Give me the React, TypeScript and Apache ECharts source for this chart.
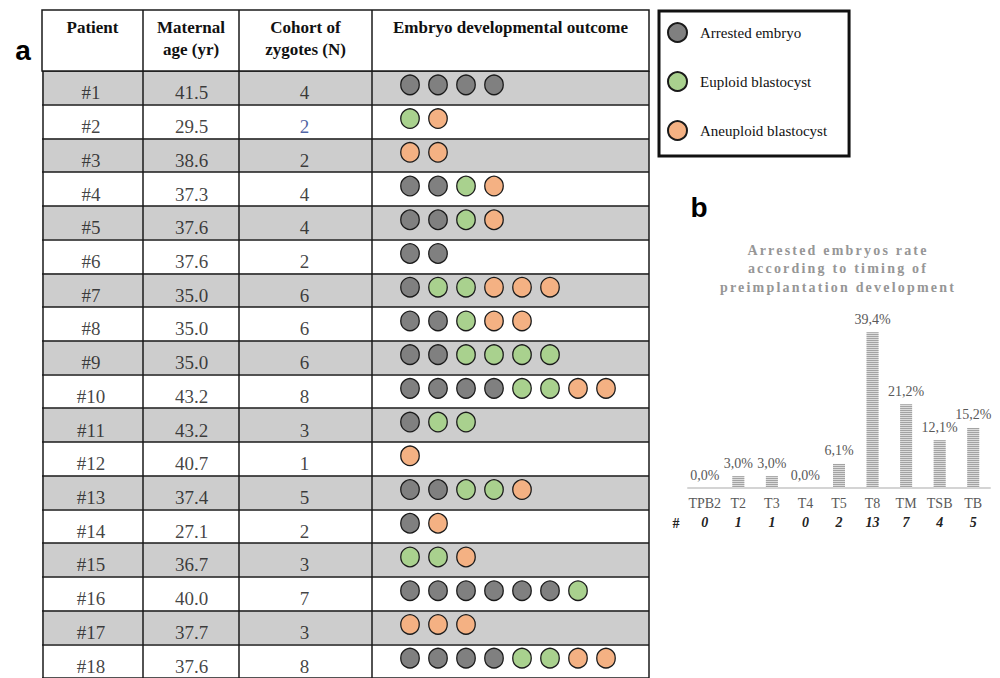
import React, { useEffect, useRef } from "react";
import * as echarts from "echarts";

// ---------- Data: table (panel a) ----------
const patients = ["#1", "#2", "#3", "#4", "#5", "#6", "#7", "#8", "#9", "#10", "#11", "#12", "#13", "#14", "#15", "#16", "#17", "#18"];
const maternalAges = ["41.5", "29.5", "38.6", "37.3", "37.6", "37.6", "35.0", "35.0", "35.0", "43.2", "43.2", "40.7", "37.4", "27.1", "36.7", "40.0", "37.7", "37.6"];
const zygoteCohorts = [4, 2, 2, 4, 4, 2, 6, 6, 6, 8, 3, 1, 5, 2, 3, 7, 3, 8];
// A = arrested embryo, E = euploid blastocyst, N = aneuploid blastocyst
const outcomes = ["AAAA", "EN", "NN", "AAEN", "AAEN", "AA", "AEENNN", "AAENN", "AAEEEE", "AAAAEENN", "AEE", "N", "AAEEN", "AN", "EEN", "AAAAAAE", "NNN", "AAAAEENN"];
const headerLabels = ["Patient", "Maternal\nage (yr)", "Cohort of\nzygotes (N)", "Embryo developmental outcome"];
const outcomeNames = ["Arrested embryo", "Euploid blastocyst", "Aneuploid blastocyst"];
const outcomeCodes = ["A", "E", "N"];
const outcomeColors = ["#808080", "#a9d18e", "#f4b183"];

// ---------- Data: bar chart (panel b) ----------
const stages = ["TPB2", "T2", "T3", "T4", "T5", "T8", "TM", "TSB", "TB"];
const arrestRates = [0.0, 3.0, 3.0, 0.0, 6.1, 39.4, 21.2, 12.1, 15.2];
const arrestCounts = [0, 1, 1, 0, 2, 13, 7, 4, 5];
const titleLines = ["Arrested embryos rate", "according to timing of", "preimplantation development"];

const SERIF = "Liberation Serif";
const SANS = "Liberation Sans";

export default function App() {
  const ref = useRef<HTMLDivElement>(null);

  useEffect(() => {
    const el = ref.current!;
    const chart = echarts.init(el, null, { renderer: "svg" });

    // table geometry
    const tLeft = 42, tWidth = 607, tTop = 71, rowH = 33.8;
    const tHeight = rowH * patients.length;
    const colBounds = [101, 197, 330]; // in grid-0 x units (px from table left)
    const colCenters = [49, 149.5, 262.5];

    const textSeries = (vals: (string | number)[], xPos: number, name: string, withLines: boolean) => ({
      type: "scatter",
      name,
      xAxisIndex: 0,
      yAxisIndex: 0,
      symbolSize: 1,
      itemStyle: { color: "transparent" },
      silent: true,
      z: 5,
      label: {
        show: true,
        position: "inside",
        offset: [0, 5],
        fontFamily: SERIF,
        fontSize: 19,
        color: "#111",
        formatter: (p: any) => String(p.value[2]),
      },
      data: vals.map((v, i) => {
        const d: any = { value: [xPos, patients[i], v] };
        if (name === "cohort" && i === 1) d.label = { color: "#1f3b8c" };
        return d;
      }),
      markLine: withLines
        ? {
            silent: true,
            symbol: "none",
            label: { show: false },
            lineStyle: { color: "#1a1a1a", width: 1.5, type: "solid" },
            data: [{ xAxis: 0.75 }, ...colBounds.map((b) => ({ xAxis: b })), { xAxis: tWidth - 0.75 }],
          }
        : undefined,
    });

    const circleSeries = outcomeCodes.map((code, k) => {
      const data: any[] = [];
      outcomes.forEach((o, r) => {
        o.split("").forEach((c, i) => {
          if (c === code) data.push([i, patients[r]]);
        });
      });
      return {
        type: "scatter",
        name: outcomeNames[k],
        xAxisIndex: 1,
        yAxisIndex: 1,
        symbol: "circle",
        symbolSize: [18.5, 19.5],
        symbolOffset: [0, -3],
        itemStyle: { color: outcomeColors[k], borderColor: "#1a1a1a", borderWidth: 1.3, opacity: 1 },
        z: 6,
        data,
      };
    });

    const barSeries = {
      type: "bar",
      name: "rate",
      xAxisIndex: 2,
      yAxisIndex: 2,
      barWidth: 12,
      data: arrestRates,
      itemStyle: {
        color: "#dcdcdc",
        decal: {
          symbol: "rect",
          symbolSize: 1,
          dashArrayX: [[1, 0]],
          dashArrayY: [1, 1],
          rotation: 0,
          color: "#a3a3a3",
        },
      },
      label: {
        show: true,
        position: "top",
        distance: 6,
        fontFamily: SERIF,
        fontSize: 14,
        color: "#595959",
        formatter: (p: any) => p.value.toFixed(1).replace(".", ",") + "%",
      },
    };

    const headerX = [42, 143, 239, 372, 649];
    const graphics: any[] = [
      { type: "rect", shape: { x: 42, y: 10, width: 607, height: 61 }, style: { fill: "#fff", stroke: "#1a1a1a", lineWidth: 1.5 }, z: 1 },
      ...headerX.slice(1, 4).map((x) => ({ type: "line", shape: { x1: x, y1: 10, x2: x, y2: 71 }, style: { stroke: "#1a1a1a", lineWidth: 1.5 }, z: 2 })),
      ...headerLabels.map((t, i) => ({
        type: "text",
        x: (headerX[i] + headerX[i + 1]) / 2,
        y: 16,
        z: 3,
        style: { text: t, font: `bold 17px "${SERIF}"`, lineHeight: 22, fill: "#111", align: "center", verticalAlign: "top" },
      })),
      { type: "text", x: 23, y: 50, z: 3, style: { text: "a", font: `bold 28px "${SANS}"`, fill: "#000", align: "center", verticalAlign: "middle" } },
      { type: "text", x: 699, y: 207, z: 3, style: { text: "b", font: `bold 28px "${SANS}"`, fill: "#000", align: "center", verticalAlign: "middle" } },
      ...titleLines.map((t, i) => ({
        type: "text",
        x: 838,
        y: 250 + i * 18.5,
        z: 3,
        style: { text: t, font: `bold 14px "${SERIF}"`, fill: "#969696", align: "center", verticalAlign: "middle" },
      })),
      { type: "text", x: 676, y: 523, z: 3, style: { text: "#", font: `bold 14px "${SERIF}"`, fill: "#222", align: "center", verticalAlign: "middle" } },
    ];

    chart.setOption({
      animation: false,
      textStyle: { fontFamily: SERIF },
      legend: {
        data: outcomeNames,
        orient: "vertical",
        left: 659,
        top: 11,
        icon: "circle",
        itemWidth: 19,
        itemHeight: 19,
        itemGap: 28,
        padding: [11, 22, 15, 8],
        borderColor: "#111",
        borderWidth: 3,
        selectedMode: false,
        textStyle: { fontFamily: SERIF, fontSize: 15, color: "#111", padding: [0, 0, 0, 8] },
      },
      grid: [
        { left: tLeft, top: tTop, width: tWidth, height: tHeight, containLabel: false },
        { left: 396, top: tTop, width: 252, height: tHeight, containLabel: false },
        { left: 688, top: 330, width: 302, height: 158, containLabel: false },
      ],
      xAxis: [
        { gridIndex: 0, type: "value", min: 0, max: tWidth, show: false },
        { gridIndex: 1, type: "value", min: -0.5, max: 8.5, show: false },
        {
          gridIndex: 2,
          type: "category",
          data: stages,
          axisTick: { show: false },
          axisLine: { lineStyle: { color: "#d4d4d4", width: 2 } },
          axisLabel: {
            margin: 6,
            interval: 0,
            formatter: (v: string, i: number) => `{c|${v}}\n{n|${arrestCounts[i]}}`,
            rich: {
              c: { fontFamily: SERIF, fontSize: 14, color: "#595959", lineHeight: 19 },
              n: { fontFamily: SERIF, fontSize: 14, fontWeight: "bold", fontStyle: "italic", color: "#222", lineHeight: 19 },
            },
          },
        },
      ],
      yAxis: [
        {
          gridIndex: 0,
          type: "category",
          data: patients,
          inverse: true,
          axisLine: { show: false },
          axisTick: { show: false },
          axisLabel: { show: false },
          splitArea: { show: true, areaStyle: { color: ["#cdcdcd", "#ffffff"], opacity: 1 } },
          splitLine: { show: true, lineStyle: { color: "#1a1a1a", width: 1.5 } },
        },
        { gridIndex: 1, type: "category", data: patients, inverse: true, show: false },
        { gridIndex: 2, type: "value", min: 0, max: 40, show: false },
      ],
      series: [
        textSeries(patients, colCenters[0], "patient", true),
        textSeries(maternalAges, colCenters[1], "age", false),
        textSeries(zygoteCohorts, colCenters[2], "cohort", false),
        ...circleSeries,
        barSeries,
      ],
      graphic: graphics,
    });

    const applySpacing = () => {
      el.querySelectorAll("text").forEach((t) => {
        if (titleLines.includes((t.textContent || "").trim())) {
          t.setAttribute("letter-spacing", "2.2");
        }
      });
    };
    chart.on("finished", applySpacing);
    const timer = setTimeout(applySpacing, 50);

    return () => {
      clearTimeout(timer);
      chart.dispose();
    };
  }, []);

  return <div ref={ref} style={{ position: "absolute", left: 0, top: 0, width: 1000, height: 678, background: "#fff" }} />;
}
